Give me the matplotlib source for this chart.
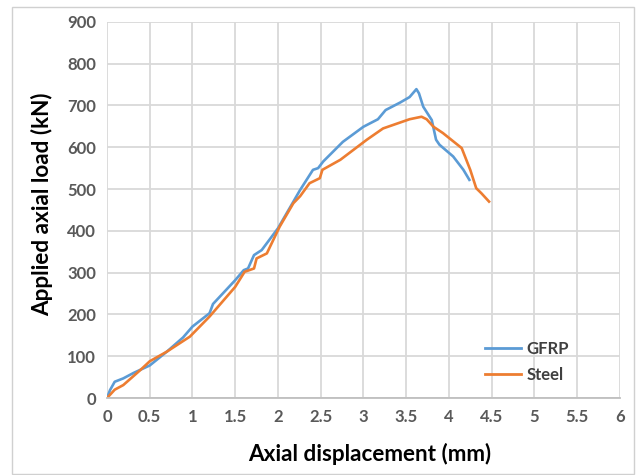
import matplotlib.pyplot as plt
from matplotlib.patches import Rectangle

# load-displacement readings (mm, kN)
gfrp_disp = [0, 0.035, 0.09, 0.19, 0.31, 0.50, 0.70, 0.89, 1.0, 1.2, 1.24, 1.5, 1.6, 1.65,
             1.72, 1.81, 2.0, 2.26, 2.41, 2.47, 2.53, 2.76, 3.0, 3.17, 3.26, 3.43, 3.54,
             3.62, 3.65, 3.70, 3.80, 3.85, 3.89, 4.05, 4.17, 4.24]
gfrp_load = [0, 19, 39, 47, 60, 78, 111, 145, 171, 203, 225, 282, 306, 310,
             342, 354, 406, 498, 546, 550, 566, 613, 649, 667, 689, 707, 720,
             739, 729, 697, 665, 618, 606, 578, 546, 522]

steel_disp = [0, 0.09, 0.19, 0.39, 0.50, 0.70, 0.97, 1.2, 1.5, 1.61, 1.72, 1.75, 1.87,
              2.02, 2.18, 2.26, 2.37, 2.49, 2.52, 2.73, 3.04, 3.23, 3.54, 3.68, 3.74,
              3.82, 3.93, 4.15, 4.25, 4.32, 4.38, 4.47]
steel_load = [0, 20, 31, 67, 88, 111, 147, 195, 266, 302, 310, 334, 346,
              410, 466, 483, 514, 526, 546, 570, 618, 645, 667, 673, 667,
              649, 634, 598, 546, 502, 490, 470]

x_ticks = [0, 0.5, 1, 1.5, 2, 2.5, 3, 3.5, 4, 4.5, 5, 5.5, 6]
x_ticklabels = ['0', '0.5', '1', '1.5', '2', '2.5', '3', '3.5', '4', '4.5', '5', '5.5', '6']
y_ticks = list(range(0, 1000, 100))

plt.rcParams['font.family'] = ['Lato', 'DejaVu Sans']

fig = plt.figure(figsize=(6.37, 4.75), dpi=100)
ax = fig.add_axes([0.168, 0.162, 0.805, 0.792])

ax.plot(gfrp_disp, gfrp_load, color='#5B9BD5', lw=1.9, label='GFRP')
ax.plot(steel_disp, steel_load, color='#ED7D31', lw=1.9, label='Steel')

ax.set_xlim(0, 6)
ax.set_ylim(0, 900)
ax.set_xticks(x_ticks)
ax.set_xticklabels(x_ticklabels)
ax.set_yticks(y_ticks)
ax.grid(True, color='#D9D9D9', lw=1.3)
ax.set_axisbelow(True)
for side in ['top', 'right', 'left']:
    ax.spines[side].set_visible(False)
ax.spines['bottom'].set_color('#BFBFBF')
ax.spines['bottom'].set_linewidth(1.3)
ax.tick_params(length=0, labelsize=12, labelcolor='#595959', pad=8)
for lbl in ax.get_xticklabels() + ax.get_yticklabels():
    lbl.set_fontweight('bold')

ax.set_xlabel('Axial displacement (mm)', fontsize=16.2, fontweight='bold')
ax.set_ylabel('Applied axial load (kN)', fontsize=16.2, fontweight='bold')
ax.xaxis.set_label_coords(0.512, -0.118)
ax.yaxis.set_label_coords(-0.106, 0.516)

leg = ax.legend(loc='lower right', bbox_to_anchor=(0.93, 0.0), frameon=False,
                fontsize=12, handlelength=2.2, handletextpad=0.3, labelspacing=0.6)
for t in leg.get_texts():
    t.set_color('#404040')
    t.set_fontweight('bold')
for h in leg.get_lines():
    h.set_linewidth(2)

# thin frame around the chart area
fig.patches.append(Rectangle((12 / 637, 1 / 475), 622 / 637, 467 / 475,
                             transform=fig.transFigure, fill=False,
                             edgecolor='#D0D0D0', lw=1))

fig.savefig('out.png', dpi=100)
